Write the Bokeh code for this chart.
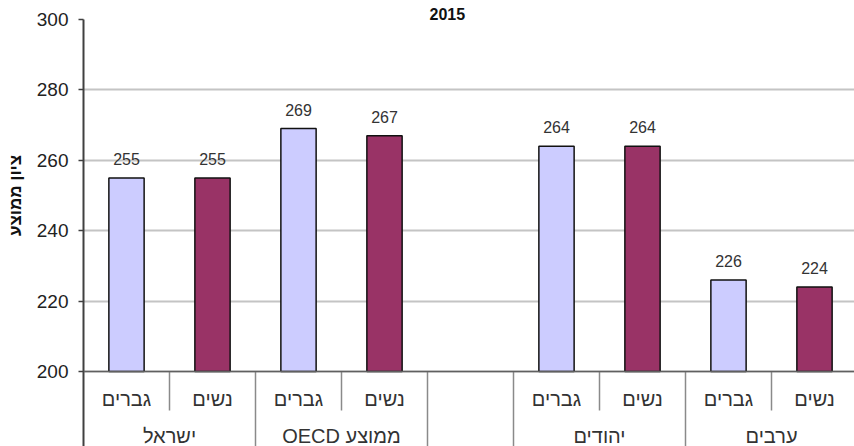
import math
from bokeh.plotting import figure
from bokeh.layouts import row
from bokeh.models import Range1d, FixedTicker, Span
from bokeh.core.properties import value
from bokeh.embed import file_html
from bokeh.resources import INLINE

# ---------------- data ----------------
title_text = "2015"
y_label = "ציון ממוצע"
groups = ["ישראל", "\u202bממוצע OECD\u202c", "יהודים", "ערבים"]
genders = ["גברים", "נשים"]
men = [255, 269, 264, 226]
women = [255, 267, 264, 224]
y_ticks = [200, 220, 240, 260, 280, 300]

# layout: an empty slot is left after the second group
group_start = [0, 2, 5, 7]

FONT = value("Liberation Sans")
MEN_COLOR = "#CCCCFF"
WOMEN_COLOR = "#993366"

W, H = 854, 446
left, top = 83, 19
label_w = 30
px_per_slot = 86.0
x_end = (W - left) / px_per_slot
px_per_unit = 3.52
y_bottom = 200 - (H - 371) / px_per_unit
yr = Range1d(y_bottom, 300)

# --- left strip holding the rotated y-axis title ---
lab = figure(width=label_w, height=H, output_backend="svg", toolbar_location=None,
             x_range=Range1d(0, label_w), y_range=yr,
             min_border_left=0, min_border_right=0, min_border_top=top,
             min_border_bottom=0)
lab.outline_line_color = None
lab.axis.visible = False
lab.grid.visible = False
lab.text(x=[15], y=[(y_ticks[0] + y_ticks[-1]) / 2], text=[y_label],
         angle=math.pi / 2, text_align="center", text_baseline="middle",
         text_font=FONT, text_font_style="bold", text_font_size="17px",
         text_color="#111111")

# --- main chart ---
p = figure(width=W - label_w, height=H, output_backend="svg", toolbar_location=None,
           x_range=Range1d(0, x_end), y_range=yr,
           min_border_left=left - label_w, min_border_right=0, min_border_top=top,
           min_border_bottom=0)
p.title.text = title_text
p.title.align = "left"
p.title.offset = 346
p.title.standoff = 0
p.title.text_font = "Liberation Sans"
p.title.text_font_style = "bold"
p.title.text_font_size = "16px"
p.title.text_color = "#111111"
p.outline_line_color = None
p.xaxis.visible = False
p.xgrid.visible = False
p.ygrid.grid_line_color = "#c4c4c4"
p.ygrid.grid_line_width = 2
p.yaxis.ticker = FixedTicker(ticks=y_ticks)
p.yaxis.minor_tick_line_color = None
p.yaxis.major_tick_in = 0
p.yaxis.major_tick_out = 5
p.yaxis.major_tick_line_color = "#404040"
p.yaxis.major_tick_line_width = 1.5
p.yaxis.axis_line_color = "#404040"
p.yaxis.axis_line_width = 2
p.yaxis.major_label_text_font = "Liberation Sans"
p.yaxis.major_label_text_font_size = "19px"
p.yaxis.major_label_text_color = "#222222"
p.yaxis.major_label_standoff = 10

# bars
men_x = [s + 0.5 for s in group_start]
women_x = [s + 1.5 for s in group_start]
p.vbar(x=men_x, top=men, bottom=200, width=0.41, fill_color=MEN_COLOR,
       line_color="#111111", line_width=1.5)
p.vbar(x=women_x, top=women, bottom=200, width=0.41, fill_color=WOMEN_COLOR,
       line_color="#111111", line_width=1.5)

# value labels
lab_off = 19 / px_per_unit
p.text(x=men_x + women_x, y=[v + lab_off for v in men + women],
       text=[str(v) for v in men + women], text_align="center",
       text_baseline="middle", text_font=FONT, text_font_size="16px",
       text_color="#333333")

# category axis (table)
p.add_layout(Span(location=200, dimension="width", line_color="#606060",
                  line_width=1.5))
short_bottom = 200 - 39 / px_per_unit
short_x = [s + 1 for s in group_start]
p.segment(x0=short_x, x1=short_x, y0=[200] * len(short_x),
          y1=[short_bottom] * len(short_x), line_color="#8a8a8a", line_width=1.5)
long_x = sorted(set([s for s in group_start if s > 0] + [s + 2 for s in group_start]))
p.segment(x0=long_x, x1=long_x, y0=[200] * len(long_x),
          y1=[y_bottom] * len(long_x), line_color="#8a8a8a", line_width=1.5)

lvl1_y = 200 - 27 / px_per_unit
lvl2_y = 200 - 64 / px_per_unit
p.text(x=men_x + women_x,
       y=[lvl1_y] * (len(men_x) + len(women_x)),
       text=[genders[0]] * len(men_x) + [genders[1]] * len(women_x),
       text_align="center", text_baseline="middle", text_font=FONT,
       text_font_size="20px", text_color="#333333")
p.text(x=[s + 1 for s in group_start], y=[lvl2_y] * len(groups), text=groups,
       text_align="center", text_baseline="middle", text_font=FONT,
       text_font_size="20px", text_color="#333333")

layout = row(lab, p, spacing=0)
open("out.html", "w").write(file_html(layout, INLINE))
